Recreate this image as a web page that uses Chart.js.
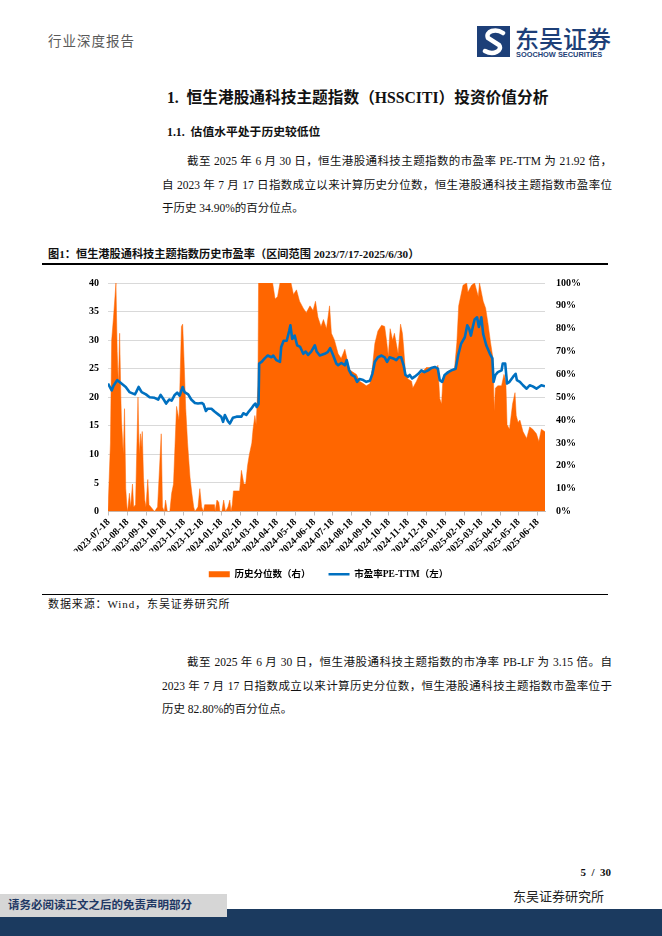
<!DOCTYPE html>
<html lang="zh-CN">
<head>
<meta charset="utf-8">
<title>恒生港股通科技主题指数历史市盈率</title>
<script src="https://cdn.jsdelivr.net/npm/chart.js@4.4.1/dist/chart.umd.min.js"></script>
<style>
  html, body { margin: 0; padding: 0; background: #fff; }
  .page {
    position: relative; width: 662px; height: 936px; overflow: hidden;
    font-family: 'Liberation Serif', 'Noto Sans CJK SC', serif; color: #111;
  }
  .abs { position: absolute; white-space: nowrap; }
  .line { position: absolute; left: 162px; width: 450px; font-size: 11.5px; line-height: 16px;
    text-align: justify; text-align-last: justify; }
  .line.last { text-align-last: left; }
  .line.first { left: 187px; width: 425px; }
  .rule { position: absolute; left: 42px; width: 566px; background: #000; }
  #chartBox { position: absolute; left: 42px; top: 268px; width: 573px; height: 321px; }
</style>
</head>
<body>
<div class="page">
  <div class="abs" style="left:48px;top:34px;font-size:13.5px;line-height:16px;color:#595959;letter-spacing:1px;">行业深度报告</div>

  <svg class="abs" style="left:477px;top:26px;" width="33" height="31" viewBox="0 0 33 31">
    <rect width="33" height="31" fill="#1d3f78"/>
    <path d="M26 7 C19 2 8 5 11 12 L22 19 C26 24 17 30 8 25" fill="none" stroke="#fff" stroke-width="4.5" stroke-linecap="round"/>
  </svg>
  <div class="abs" style="left:515px;top:24px;font-size:24px;line-height:28px;color:#1d3f78;font-family:'Noto Sans CJK SC';font-weight:500;">东吴证券</div>
  <div class="abs" style="left:516px;top:50px;font-size:7.4px;line-height:9px;color:#1d3f78;font-family:'Liberation Sans';font-weight:bold;">SOOCHOW SECURITIES</div>

  <div class="abs" style="left:167px;top:89px;font-size:15.7px;line-height:18px;font-weight:bold;">1.&nbsp;&nbsp;恒生港股通科技主题指数（HSSCITI）投资价值分析</div>
  <div class="abs" style="left:167px;top:124px;font-size:11.8px;line-height:16px;font-weight:bold;">1.1.&nbsp;&nbsp;估值水平处于历史较低位</div>

  <div class="line first" style="top:153px;">截至 2025 年 6 月 30 日，恒生港股通科技主题指数的市盈率 PE-TTM 为 21.92 倍，</div>
  <div class="line" style="top:177px;">自 2023 年 7 月 17 日指数成立以来计算历史分位数，恒生港股通科技主题指数市盈率位</div>
  <div class="line last" style="top:200px;">于历史 34.90%的百分位点。</div>

  <div class="abs" style="left:48px;top:247px;font-size:11.2px;line-height:14px;font-weight:bold;">图1：恒生港股通科技主题指数历史市盈率（区间范围 2023/7/17-2025/6/30）</div>
  <div class="rule" style="top:263px;height:1.5px;"></div>

  <div id="chartBox"><canvas id="peChart"></canvas></div>

  <div class="rule" style="top:594px;height:1.3px;"></div>
  <div class="abs" style="left:48px;top:597px;font-size:11px;line-height:14px;letter-spacing:0.9px;">数据来源：Wind，东吴证券研究所</div>

  <div class="line first" style="top:654px;">截至 2025 年 6 月 30 日，恒生港股通科技主题指数的市净率 PB-LF 为 3.15 倍。自</div>
  <div class="line" style="top:678px;">2023 年 7 月 17 日指数成立以来计算历史分位数，恒生港股通科技主题指数市盈率位于</div>
  <div class="line last" style="top:701px;">历史 82.80%的百分位点。</div>

  <div class="abs" style="right:51px;top:865px;font-size:11px;line-height:14px;font-weight:bold;">5&nbsp;&nbsp;/&nbsp;&nbsp;30</div>
  <div class="abs" style="left:513px;top:889px;font-size:13px;line-height:16px;color:#222;">东吴证券研究所</div>

  <div class="abs" style="left:0;top:909px;width:662px;height:27px;background:#1b3a5f;"></div>
  <div class="abs" style="left:0;top:894px;width:227px;height:23px;background:#d6d6d6;"></div>
  <div class="abs" style="left:8px;top:897px;font-size:11.5px;line-height:16px;font-weight:bold;color:#1f3864;">请务必阅读正文之后的免责声明部分</div>
</div>

<script>
// x axis: calendar days counted from the index launch date
const startDate = '2023-07-17';
const endDate = '2025-06-30';

const tickLabels = [
    '2023-07-18', '2023-08-18', '2023-09-18', '2023-10-18', '2023-11-18', '2023-12-18',
    '2024-01-18', '2024-02-18', '2024-03-18', '2024-04-18', '2024-05-18', '2024-06-18',
    '2024-07-18', '2024-08-18', '2024-09-18', '2024-10-18', '2024-11-18', '2024-12-18',
    '2025-01-18', '2025-02-18', '2025-03-18', '2025-04-18', '2025-05-18', '2025-06-18',
];

// 历史分位数（右）, in %
const pctDates = [
    '2023-07-17', '2023-07-19', '2023-07-21', '2023-07-23', '2023-07-26', '2023-07-30',
    '2023-08-01', '2023-08-03', '2023-08-05', '2023-08-07', '2023-08-08', '2023-08-11',
    '2023-08-13', '2023-08-15', '2023-08-17', '2023-08-18', '2023-08-21', '2023-08-23',
    '2023-08-26', '2023-08-28', '2023-08-31', '2023-09-04', '2023-09-06', '2023-09-08',
    '2023-09-09', '2023-09-11', '2023-09-13', '2023-09-15', '2023-09-17', '2023-09-20',
    '2023-09-22', '2023-09-25', '2023-10-01', '2023-10-06', '2023-10-12', '2023-10-14',
    '2023-10-17', '2023-10-19', '2023-10-22', '2023-10-26', '2023-10-29', '2023-11-01',
    '2023-11-06', '2023-11-10', '2023-11-14', '2023-11-16', '2023-11-18', '2023-11-21',
    '2023-11-24', '2023-11-28', '2023-12-01', '2023-12-04', '2023-12-06', '2023-12-11',
    '2023-12-14', '2023-12-17', '2023-12-20', '2023-12-22', '2024-01-07', '2024-01-08',
    '2024-01-11', '2024-01-14', '2024-01-16', '2024-01-19', '2024-01-22', '2024-01-25',
    '2024-01-29', '2024-02-01', '2024-02-03', '2024-02-05', '2024-02-07', '2024-02-17',
    '2024-02-20', '2024-02-24', '2024-02-27', '2024-03-01', '2024-03-04', '2024-03-08',
    '2024-03-10', '2024-03-13', '2024-03-15', '2024-03-18', '2024-03-19', '2024-04-11',
    '2024-04-15', '2024-04-19', '2024-04-23', '2024-05-11', '2024-05-15', '2024-05-20',
    '2024-05-25', '2024-05-31', '2024-06-05', '2024-06-11', '2024-06-16', '2024-06-20',
    '2024-06-24', '2024-06-29', '2024-07-03', '2024-07-08', '2024-07-13', '2024-07-16',
    '2024-07-21', '2024-07-27', '2024-08-01', '2024-08-07', '2024-08-12', '2024-08-15',
    '2024-08-20', '2024-08-26', '2024-08-31', '2024-09-06', '2024-09-11', '2024-09-17',
    '2024-09-21', '2024-09-25', '2024-09-30', '2024-10-06', '2024-10-11', '2024-10-14',
    '2024-10-17', '2024-10-20', '2024-10-24', '2024-10-27', '2024-11-02', '2024-11-06',
    '2024-11-09', '2024-11-11', '2024-11-14', '2024-11-18', '2024-11-24', '2024-11-26',
    '2024-12-02', '2024-12-07', '2024-12-13', '2024-12-18', '2024-12-29', '2025-01-04',
    '2025-01-06', '2025-01-09', '2025-01-12', '2025-01-14', '2025-01-20', '2025-01-28',
    '2025-02-02', '2025-02-06', '2025-02-09', '2025-02-16', '2025-02-22', '2025-02-24',
    '2025-03-02', '2025-03-07', '2025-03-13', '2025-03-15', '2025-03-18', '2025-03-21',
    '2025-03-25', '2025-03-29', '2025-04-02', '2025-04-06', '2025-04-08', '2025-04-10',
    '2025-04-14', '2025-04-20', '2025-04-24', '2025-04-27', '2025-04-29', '2025-05-03',
    '2025-05-08', '2025-05-12', '2025-05-14', '2025-05-17', '2025-05-20', '2025-05-25',
    '2025-05-31', '2025-06-05', '2025-06-10', '2025-06-16', '2025-06-20', '2025-06-24',
    '2025-06-30',
];
const pctValues = [
    0, 15, 30, 75, 85, 100,
    70, 55, 78, 50, 40, 25,
    45, 10, 2, 0, 8, 2,
    12, 2, 3, 50, 25, 34,
    28, 35, 15, 5, 2, 14,
    3, 2, 0, 2, 34, 2,
    0, 5, 0, 0, 8, 12,
    46, 40, 81, 82, 68, 45,
    30, 15, 8, 2, 0, 2,
    10, 2, 0, 3, 3, 0,
    5, 4, 0, 0, 5, 0,
    2, 5, 0, 3, 9, 9,
    18, 12, 12, 20, 25, 30,
    36, 42, 38, 55, 100, 100,
    93, 94, 100, 100, 95, 97,
    92, 89, 87, 90, 88, 92,
    85, 81, 84, 80, 90, 78,
    75, 69, 67, 71, 65, 62,
    61, 60, 57, 56, 55, 56,
    63, 73.5, 79, 81.5, 81, 75,
    68, 80, 75, 78, 69, 82,
    78, 72, 60.5, 58, 57, 54,
    57, 60, 61.5, 63, 63, 62.6,
    64, 49.5, 47, 57, 61, 62,
    62, 74, 90, 99, 100, 96,
    99, 100, 94, 100, 96, 92,
    89, 82, 74, 67, 44, 54,
    55, 55, 60, 57, 38, 36,
    47, 52, 42, 39, 40, 35,
    32, 37, 36, 34, 30.6, 36,
    34.9,
];

// 市盈率PE-TTM（左）
const peDates = [
    '2023-07-17', '2023-07-23', '2023-07-26', '2023-08-01', '2023-08-08', '2023-08-15',
    '2023-08-21', '2023-08-30', '2023-09-01', '2023-09-05', '2023-09-10', '2023-09-17',
    '2023-09-23', '2023-10-01', '2023-10-07', '2023-10-11', '2023-10-16', '2023-10-20',
    '2023-10-25', '2023-10-29', '2023-11-03', '2023-11-07', '2023-11-11', '2023-11-16',
    '2023-11-19', '2023-11-25', '2023-11-30', '2023-12-06', '2023-12-11', '2023-12-17',
    '2023-12-20', '2023-12-24', '2023-12-27', '2024-01-02', '2024-01-07', '2024-01-13',
    '2024-01-18', '2024-01-21', '2024-01-24', '2024-01-29', '2024-02-01', '2024-02-06',
    '2024-02-12', '2024-02-20', '2024-02-23', '2024-02-28', '2024-03-03', '2024-03-07',
    '2024-03-11', '2024-03-14', '2024-03-16', '2024-03-19', '2024-03-20', '2024-03-24',
    '2024-03-29', '2024-04-03', '2024-04-09', '2024-04-12', '2024-04-17', '2024-04-23',
    '2024-04-25', '2024-04-29', '2024-05-04', '2024-05-08', '2024-05-10', '2024-05-13',
    '2024-05-17', '2024-05-21', '2024-05-26', '2024-05-31', '2024-06-04', '2024-06-08',
    '2024-06-13', '2024-06-19', '2024-06-22', '2024-06-27', '2024-07-05', '2024-07-10',
    '2024-07-14', '2024-07-19', '2024-07-24', '2024-07-27', '2024-08-01', '2024-08-07',
    '2024-08-10', '2024-08-14', '2024-08-18', '2024-08-23', '2024-08-27', '2024-08-31',
    '2024-09-06', '2024-09-11', '2024-09-17', '2024-09-21', '2024-09-25', '2024-09-30',
    '2024-10-06', '2024-10-11', '2024-10-15', '2024-10-19', '2024-10-25', '2024-10-30',
    '2024-11-03', '2024-11-07', '2024-11-11', '2024-11-14', '2024-11-18', '2024-11-21',
    '2024-11-25', '2024-11-29', '2024-12-05', '2024-12-10', '2024-12-15', '2024-12-21',
    '2024-12-26', '2025-01-01', '2025-01-06', '2025-01-09', '2025-01-13', '2025-01-17',
    '2025-01-23', '2025-01-28', '2025-02-04', '2025-02-08', '2025-02-13', '2025-02-19',
    '2025-02-23', '2025-02-26', '2025-03-01', '2025-03-04', '2025-03-07', '2025-03-11',
    '2025-03-14', '2025-03-18', '2025-03-21', '2025-03-26', '2025-04-01', '2025-04-05',
    '2025-04-07', '2025-04-10', '2025-04-14', '2025-04-20', '2025-04-22', '2025-04-26',
    '2025-04-29', '2025-05-03', '2025-05-09', '2025-05-13', '2025-05-15', '2025-05-20',
    '2025-05-25', '2025-05-31', '2025-06-05', '2025-06-10', '2025-06-16', '2025-06-20',
    '2025-06-24', '2025-06-30',
];
const peValues = [
    22.4, 21.2, 22.0, 23.0, 22.4, 21.8,
    20.9, 20.5, 20.9, 21.8, 20.9, 20.5,
    20.0, 19.9, 19.6, 20.4, 19.6, 18.9,
    19.6, 19.4, 20.4, 20.8, 20.3, 21.8,
    20.9, 20.5, 19.6, 19.0, 18.9, 19.0,
    18.8, 17.6, 18.0, 18.0, 17.5, 17.0,
    16.6, 15.7, 16.9, 15.8, 15.4, 16.4,
    16.6, 16.6, 17.2, 16.9, 17.5, 18.0,
    18.6, 18.9, 18.3, 18.8, 25.9, 26.2,
    26.8, 27.3, 27.0, 27.3, 26.5, 26.2,
    28.8, 29.9, 29.9, 31.6, 32.6, 30.2,
    30.8, 29.1, 28.8, 27.6, 28.0, 27.4,
    28.0, 29.1, 28.0, 27.3, 27.6, 27.9,
    28.6, 27.3, 25.9, 25.6, 26.0, 25.6,
    26.5, 24.7, 23.9, 23.6, 22.7, 23.2,
    23.0, 22.7, 22.9, 24.1, 26.2, 27.0,
    27.3, 27.0, 26.2, 27.0, 26.8, 26.5,
    27.0, 27.0, 25.6, 23.9, 23.6, 23.9,
    23.3, 23.6, 24.1, 24.7, 24.4, 24.7,
    25.1, 25.3, 25.0, 23.0, 22.7, 23.9,
    24.4, 24.7, 25.0, 27.3, 29.4, 30.5,
    32.6, 32.0, 30.8, 32.3, 33.6, 34.0,
    32.3, 34.0, 31.1, 29.1, 27.6, 26.8,
    22.7, 23.9, 24.4, 24.7, 25.9, 25.9,
    22.4, 22.7, 23.6, 24.1, 23.0, 22.7,
    22.1, 21.5, 22.1, 21.9, 21.5, 21.8,
    22.1, 21.92,
];

const Color = {
    Orange: '#FF6600',
    Blue: '#0070C0',
    Grid: '#D9D9D9',
    Axis: '#BFBFBF',
};

const fontFamily = "'Liberation Serif', 'Noto Sans CJK SC', serif";
const tickFont = { family: fontFamily, size: 10, weight: 'bold' };

function dayOf(dateStr) {
    return (Date.parse(dateStr) - Date.parse(startDate)) / 86400000;
}

function toPoints(dates, values) {
    return dates.map((d, i) => ({ x: dayOf(d), y: values[i] }));
}

function renderPeChart() {
    var ctx = document.getElementById('peChart').getContext('2d');
    new Chart(ctx, {
        type: 'line',
        data: {
            datasets: [
                {
                    label: '历史分位数（右）',
                    data: toPoints(pctDates, pctValues),
                    yAxisID: 'yPct',
                    fill: 'origin',
                    backgroundColor: Color.Orange,
                    borderColor: Color.Orange,
                    borderWidth: 0.5,
                    pointRadius: 0,
                    pointBorderWidth: 0,
                    pointStyle: 'rect',
                    tension: 0,
                    order: 2,
                },
                {
                    label: '市盈率PE-TTM（左）',
                    data: toPoints(peDates, peValues),
                    yAxisID: 'yPe',
                    fill: false,
                    backgroundColor: Color.Blue,
                    borderColor: Color.Blue,
                    borderWidth: 2.6,
                    borderJoinStyle: 'round',
                    pointRadius: 0,
                    pointBorderWidth: 2.6,
                    pointStyle: 'line',
                    tension: 0,
                    order: 1,
                },
            ],
        },
        options: {
            responsive: true,
            maintainAspectRatio: false,
            animation: false,
            devicePixelRatio: 1,
            layout: { padding: { top: 13, left: 0, right: 0, bottom: 0 } },
            plugins: {
                tooltip: { enabled: false },
                legend: {
                    position: 'bottom',
                    labels: {
                        usePointStyle: true,
                        pointStyleWidth: 21,
                        boxHeight: 6,
                        padding: 18,
                        color: '#000',
                        font: { family: fontFamily, size: 9.5, weight: 'bold' },
                        sort: (a, b) => a.datasetIndex - b.datasetIndex,
                    },
                },
            },
            scales: {
                x: {
                    type: 'linear',
                    min: 0,
                    max: dayOf(endDate),
                    afterBuildTicks: (scale) => {
                        scale.ticks = tickLabels.map((d) => ({ value: dayOf(d) }));
                    },
                    afterFit: (scale) => { scale.height = 40; },
                    ticks: {
                        autoSkip: false,
                        minRotation: 45,
                        maxRotation: 45,
                        padding: 1,
                        color: '#000',
                        font: { family: fontFamily, size: 10, weight: 'bold' },
                        callback: (value, index) => tickLabels[index],
                    },
                    grid: { drawOnChartArea: false, tickLength: 4, color: Color.Axis },
                    border: { color: Color.Axis },
                },
                yPe: {
                    position: 'left',
                    min: 0,
                    max: 40,
                    afterFit: (scale) => { scale.width = 66; },
                    ticks: { stepSize: 5, padding: 9, color: '#000', font: tickFont },
                    grid: { color: Color.Grid, drawTicks: false },
                    border: { display: false },
                },
                yPct: {
                    position: 'right',
                    min: 0,
                    max: 100,
                    afterFit: (scale) => { scale.width = 70; },
                    ticks: { stepSize: 10, padding: 3, color: '#000', font: tickFont, callback: (v) => v + '%' },
                    grid: { display: false },
                    border: { display: false },
                },
            },
        },
    });
}

renderPeChart();
</script>
</body>
</html>
